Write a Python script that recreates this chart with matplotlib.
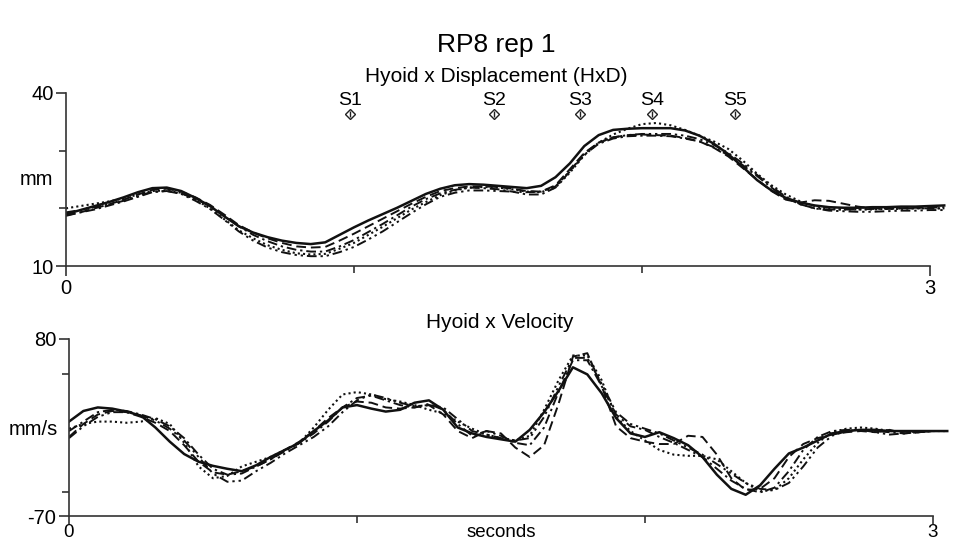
import numpy as np
import matplotlib
matplotlib.use("Agg")
import matplotlib.pyplot as plt
import matplotlib.transforms as mtransforms

plt.rcParams["font.family"] = ["Liberation Sans", "DejaVu Sans"]
plt.rcParams["axes.unicode_minus"] = False

# time samples (s), every 50 ms
t = np.round(np.arange(62) * 0.05, 2)

# Hyoid x displacement (mm), five repetitions
disp_solid = [19.0, 19.7, 20.4, 21.1, 21.9, 22.8, 23.5, 23.6, 23.0, 21.8, 20.4, 18.6, 16.9, 15.8, 15.0, 14.4,
              14.0, 13.8, 14.1, 15.4, 16.7, 17.9, 19.0, 20.1, 21.3, 22.5, 23.4, 24.0, 24.2, 24.1, 23.9, 23.7,
              23.5, 23.9, 25.4, 27.8, 30.8, 32.7, 33.6, 33.8, 33.9, 33.9, 33.9, 33.5, 32.6, 31.2, 29.4, 27.2,
              24.9, 23.1, 21.8, 21.0, 20.5, 20.2, 20.1, 20.1, 20.2, 20.2, 20.3, 20.3, 20.4, 20.5]
disp_dashed = [18.7, 19.3, 20.0, 20.7, 21.5, 22.4, 23.2, 23.4, 22.9, 21.9, 20.6, 18.9, 17.1, 15.8, 14.8, 14.0,
               13.4, 13.2, 13.3, 14.4, 15.6, 16.9, 18.2, 19.5, 20.8, 22.0, 23.0, 23.5, 23.8, 23.8, 23.7, 23.4,
               23.0, 22.9, 24.0, 26.8, 29.6, 31.4, 32.3, 32.7, 32.8, 32.7, 32.6, 32.2, 31.6, 30.5, 29.0, 27.0,
               25.0, 23.0, 21.5, 21.0, 21.4, 21.3, 20.8, 20.3, 20.0, 20.0, 20.0, 20.1, 20.1, 20.2]
disp_dotted = [20.0, 20.4, 20.8, 21.2, 21.7, 22.4, 23.0, 23.1, 22.7, 21.5, 20.0, 18.1, 16.2, 14.8, 13.6, 12.8,
               12.2, 12.0, 12.1, 13.0, 14.0, 15.4, 16.8, 18.3, 19.8, 21.1, 22.3, 23.1, 23.6, 23.7, 23.6, 23.3,
               22.9, 22.8, 23.6, 26.2, 29.2, 31.4, 32.8, 33.8, 34.6, 34.8, 34.4, 33.6, 32.6, 31.6, 30.3, 28.3,
               26.0, 24.0, 22.4, 21.2, 20.4, 19.9, 19.8, 19.8, 19.8, 19.9, 19.9, 20.0, 20.0, 20.0]
disp_dashdot = [18.8, 19.3, 19.8, 20.5, 21.2, 22.0, 22.8, 23.0, 22.6, 21.6, 20.4, 18.7, 16.9, 15.4, 14.3, 13.4,
                12.8, 12.5, 12.5, 13.4, 14.5, 15.9, 17.3, 18.8, 20.3, 21.6, 22.6, 23.2, 23.6, 23.5, 23.3, 22.9,
                22.4, 22.4, 23.6, 26.4, 29.3, 31.2, 32.1, 32.5, 32.6, 32.6, 32.5, 32.1, 31.6, 30.6, 29.2, 27.5,
                25.6, 23.6, 21.8, 20.7, 20.0, 19.8, 19.8, 19.8, 19.9, 19.9, 20.0, 20.0, 20.0, 20.0]
disp_dashdotdot = [19.3, 19.7, 20.2, 20.7, 21.3, 22.1, 22.9, 23.0, 22.5, 21.3, 19.9, 18.0, 16.0, 14.4, 13.2, 12.4,
                   11.9, 11.7, 11.7, 12.4, 13.3, 14.6, 16.0, 17.6, 19.2, 20.7, 22.0, 22.7, 23.1, 23.1, 23.0, 22.9,
                   22.8, 22.9, 23.8, 26.5, 29.5, 31.4, 32.3, 32.7, 32.9, 32.9, 32.9, 32.6, 32.0, 31.0, 29.6, 27.8,
                   25.8, 23.8, 22.0, 20.7, 20.0, 19.6, 19.5, 19.4, 19.4, 19.5, 19.6, 19.6, 19.7, 19.7]

# Hyoid x velocity (mm/s), five repetitions
vel_solid = [10, 19, 22, 21, 18.5, 15, 5, -7, -17.5, -24, -27.5, -30, -32, -27, -20, -14,
             -8, 2, 11, 22, 24, 21, 18.5, 20, 26, 28, 20, 5, 0, -3, -5, -7,
             3, 18, 36, 56, 50, 34, 13, 0, -3, 1, -4, -10, -20, -35, -47, -52,
             -44, -30, -17, -12, -6, 0, 2, 3, 3, 2, 2, 2, 2, 2]
vel_dashed = [-3, 8, 16, 19, 18, 14, 9, 2, -10, -24, -33, -35, -32, -28, -22, -14,
              -7, 2, 13, 22, 27, 26, 22, 21, 22, 24, 16, 2, -4, 2, 0, -12,
              -20, -10, 25, 65, 68, 40, 6, -4, -7, -9, -9, -2, -3, -18, -38, -48,
              -47, -38, -20, -9, -4, -1, 1, 2, 1, 3, 0, 1, 2, 2]
vel_dotted = [4, 8, 10, 10, 9, 10, 13, 8, -8, -28, -38, -36, -28, -24, -20, -14,
              -8, 5, 20, 33, 35, 33, 29, 27, 24, 20, 17, 10, 4, -1, -4, -6,
              -2, 20, 45, 66, 66, 45, 14, 2, -6, -14, -18, -19, -19, -22, -32, -42,
              -49, -48, -38, -22, -8, 1, 4, 5, 4, 2, 2, 1, 2, 2]
vel_dashdot = [2, 10, 18, 20, 19, 16, 12, 6, -4, -18, -30, -35, -34, -28, -22, -15,
               -8, 0, 10, 22, 30, 32, 28, 24, 22, 25, 20, 8, -2, 2, -2, -8,
               -10, 5, 35, 62, 62, 40, 16, 6, 3, -3, -8, -14, -20, -30, -40, -47,
               -50, -46, -32, -14, -3, 2, 3, 3, 2, 1, 0, 1, 2, 2]
vel_dashdotdot = [-4, 6, 14, 18, 18, 15, 11, 4, -6, -20, -34, -41, -40, -32, -25, -17,
                  -10, -3, 6, 18, 28, 33, 30, 26, 23, 24, 22, 12, 2, -1, -4, -6,
                  -4, 14, 40, 64, 64, 42, 18, 8, 4, 0, -6, -12, -18, -26, -34, -42,
                  -47, -48, -42, -28, -12, -2, 2, 3, 1, -1, 0, 1, 2, 2]

event_names = ["S1", "S2", "S3", "S4", "S5"]
event_times = [0.986, 1.486, 1.785, 2.035, 2.323]

styles = [
    ("-", 1.8),
    ((0, (5, 2.5)), 1.4),
    ((0, (1, 1.5)), 1.5),
    ((0, (5, 2, 1.2, 2)), 1.4),
    ((0, (5, 2, 1.2, 2, 1.2, 2)), 1.4),
]

fig = plt.figure(figsize=(9.54, 5.46), dpi=100)
ax1 = fig.add_axes([66 / 954, 1 - 266 / 546, 884 / 954, 173 / 546])
ax2 = fig.add_axes([69 / 954, 1 - 516 / 546, 884 / 954, 177 / 546])

disp_series = [disp_solid, disp_dashed, disp_dotted, disp_dashdot, disp_dashdotdot]
vel_series = [vel_solid, vel_dashed, vel_dotted, vel_dashdot, vel_dashdotdot]

for (ls, lw), d in zip(styles, disp_series):
    ax1.plot(t, d, color="#111111", linestyle=ls, linewidth=lw)
for (ls, lw), v in zip(styles, vel_series):
    ax2.plot(t, v, color="#111111", linestyle=ls, linewidth=lw)


def style_axis(ax, ylo, yhi, minor_y):
    ax.set_xlim(0, 3.07)
    ax.set_ylim(ylo, yhi)
    for s in ["top", "right"]:
        ax.spines[s].set_visible(False)
    for s in ["left", "bottom"]:
        ax.spines[s].set_color("#333333")
        ax.spines[s].set_linewidth(1.2)
    ax.spines["bottom"].set_bounds(0, 3)
    ax.set_xticks([0, 3])
    ax.set_xticks([1, 2], minor=True)
    ax.set_yticks([ylo, yhi])
    ax.set_yticks(minor_y, minor=True)
    ax.tick_params(which="major", length=7, width=1.2, color="#333333", labelsize=14.5, pad=2)
    ax.tick_params(which="minor", length=5, width=1.2, color="#333333")
    ax.patch.set_alpha(0)


style_axis(ax1, 10, 40, [20, 30])
style_axis(ax2, -70, 80, [-50, 50])
ax2.tick_params(axis="x", which="major", length=6, pad=0, labelsize=13.5)

trans1 = mtransforms.blended_transform_factory(ax1.transAxes, ax1.transData)
ax1.text(-0.015, 25, "mm", transform=trans1, ha="right", va="center", fontsize=14.5)
trans2 = mtransforms.blended_transform_factory(ax2.transAxes, ax2.transData)
ax2.text(-0.013, 3, "mm/s", transform=trans2, ha="right", va="center", fontsize=14.5)

ax2.text(1.5, -0.045, "seconds", transform=mtransforms.blended_transform_factory(ax2.transData, ax2.transAxes),
         ha="center", va="top", fontsize=13.5)

# event markers
for name, et in zip(event_names, event_times):
    ax1.plot([et], [36.4], marker="D", markersize=5.5, markerfacecolor="none",
             markeredgecolor="#222222", markeredgewidth=1.0)
    ax1.plot([et], [36.4], marker="|", markersize=5, color="#222222", markeredgewidth=1.0)
    ax1.annotate(name, (et, 36.4), xytext=(0, 3.5), textcoords="offset points",
                 ha="center", va="bottom", fontsize=14)

fig.text(496 / 954, 1 - 45 / 546, "RP8 rep 1", ha="center", va="center", fontsize=19)
fig.text(496 / 954, 1 - 76 / 546, "Hyoid x Displacement (HxD)", ha="center", va="center", fontsize=15)
fig.text(500 / 954, 1 - 322 / 546, "Hyoid x Velocity", ha="center", va="center", fontsize=15)

fig.savefig("out.png", dpi=100, facecolor="white")
